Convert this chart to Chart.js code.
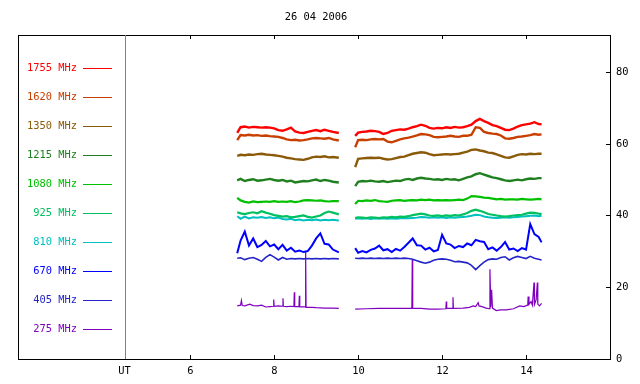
<!DOCTYPE html>
<html>
<head>
<meta charset="utf-8">
<script src="https://cdn.jsdelivr.net/npm/chart.js@4.4.0/dist/chart.umd.min.js"></script>
<style>
html, body { margin: 0; padding: 0; background: #fff; }
#box { width: 640px; height: 384px; }
</style>
</head>
<body>
<div id="box"><canvas id="radio" width="640" height="384"></canvas></div>
<script>
// time grid (UT hours) for the two observing runs
const hoursA = [7.12, 7.2, 7.3, 7.4, 7.5, 7.6, 7.7, 7.8, 7.9, 8.0, 8.1, 8.2, 8.3, 8.4, 8.5, 8.6, 8.7, 8.8, 8.9, 9.0, 9.1, 9.2, 9.3, 9.4, 9.54];
const hoursB = [9.93, 10.0, 10.1, 10.2, 10.3, 10.4, 10.5, 10.6, 10.7, 10.8, 10.9, 11.0, 11.1, 11.2, 11.3, 11.4, 11.5, 11.6, 11.7, 11.8, 11.9,
    12.0, 12.1, 12.2, 12.3, 12.4, 12.5, 12.6, 12.7, 12.8, 12.9, 13.0, 13.1, 13.2, 13.3, 13.4, 13.5, 13.6, 13.7, 13.8, 13.9,
    14.0, 14.1, 14.2, 14.3, 14.37];
const gapHour = 9.7;

const mhz1755A = [63.0, 64.6, 64.8, 64.5, 64.7, 64.6, 64.5, 64.6, 64.5, 64.3, 63.8, 63.6, 64.0, 64.5, 63.4, 63.1, 63.0, 63.3, 63.6, 63.8, 63.5, 63.9, 63.6, 63.3, 63.0];
const mhz1755B = [62.2, 63.1, 63.3, 63.4, 63.6, 63.5, 63.3, 62.7, 63.0, 63.6, 63.8, 64.0, 63.9, 64.2, 64.6, 64.9, 65.3, 65.0, 64.4, 64.2, 64.4, 64.3, 64.6,
    64.4, 64.7, 64.5, 64.6, 64.9, 65.3, 66.3, 66.9, 66.3, 65.8, 65.2, 64.9, 64.4, 63.9, 63.8, 64.2, 64.8, 65.2, 65.4, 65.6, 66.0, 65.5, 65.4];

const mhz1620A = [61.0, 62.4, 62.3, 62.5, 62.3, 62.4, 62.2, 62.3, 62.1, 62.0, 61.9, 61.6, 61.2, 61.0, 61.1, 60.9, 61.0, 61.2, 61.5, 61.6, 61.5, 61.4, 61.6, 61.2, 60.9];
const mhz1620B = [59.0, 61.0, 61.1, 61.0, 61.2, 61.3, 61.2, 61.3, 60.6, 60.4, 60.8, 61.2, 61.5, 61.7, 62.0, 62.3, 62.7, 62.6, 62.4, 61.9, 61.8, 61.9, 62.0,
    62.2, 62.0, 61.9, 62.2, 62.2, 62.5, 64.6, 64.4, 63.3, 63.0, 62.8, 62.7, 62.3, 61.5, 61.4, 61.6, 61.9, 62.0, 62.2, 62.4, 62.7, 62.5, 62.6];

const mhz1350A = [56.6, 56.9, 56.8, 57.0, 56.9, 57.1, 57.2, 57.0, 56.9, 56.8, 56.6, 56.4, 56.1, 55.9, 55.7, 55.6, 55.5, 55.8, 56.2, 56.4, 56.3, 56.5, 56.2, 56.3, 56.1];
const mhz1350B = [53.5, 55.8, 55.9, 56.0, 56.1, 56.0, 56.1, 55.8, 55.6, 55.7, 56.0, 56.3, 56.4, 56.8, 57.2, 57.4, 57.6, 57.5, 57.1, 56.8, 56.9, 57.0, 57.1,
    57.0, 57.1, 57.2, 57.5, 57.8, 58.3, 58.4, 58.1, 57.9, 57.5, 57.4, 57.0, 56.6, 56.2, 56.1, 56.5, 56.9, 57.1, 57.0, 57.2, 57.1, 57.2, 57.2];

const mhz1215A = [49.8, 50.2, 49.6, 49.9, 50.1, 49.7, 49.8, 50.0, 50.2, 49.9, 49.7, 49.9, 49.5, 49.7, 49.2, 49.4, 49.6, 49.5, 49.8, 50.0, 49.6, 49.9, 49.7, 49.4, 49.2];
const mhz1215B = [48.2, 49.4, 49.6, 49.5, 49.7, 49.5, 49.4, 49.6, 49.3, 49.5, 49.7, 49.6, 50.0, 50.2, 49.9, 50.3, 50.5, 50.3, 50.2, 50.0, 50.1, 49.9, 50.2,
    50.0, 50.1, 49.8, 50.2, 50.6, 50.9, 51.5, 51.8, 51.4, 51.0, 50.6, 50.4, 50.1, 49.8, 49.6, 49.8, 50.0, 49.8, 50.1, 50.3, 50.2, 50.4, 50.4];

const mhz1080A = [44.9, 44.2, 43.8, 43.6, 43.9, 43.7, 43.8, 43.9, 43.8, 44.0, 43.8, 43.9, 43.8, 44.0, 43.7, 43.9, 44.2, 44.3, 44.2, 44.1, 44.2, 44.0, 43.9, 44.0, 44.0];
const mhz1080B = [43.2, 44.1, 44.0, 44.2, 44.1, 44.3, 44.0, 43.9, 43.8, 44.1, 44.2, 44.3, 44.1, 44.2, 44.3, 44.2, 44.4, 44.3, 44.4, 44.2, 44.3, 44.2, 44.3,
    44.2, 44.3, 44.4, 44.3, 44.7, 45.4, 45.3, 45.2, 45.0, 44.9, 44.7, 44.5, 44.6, 44.4, 44.5, 44.5, 44.4, 44.6, 44.5, 44.4, 44.5, 44.6, 44.5];

const mhz925A = [40.9, 40.6, 40.4, 40.7, 40.9, 40.6, 41.2, 40.8, 40.5, 40.1, 39.9, 39.7, 39.8, 39.5, 39.6, 39.8, 40.0, 39.6, 39.4, 39.7, 40.0, 40.7, 41.1, 40.8, 40.3];
const mhz925B = [39.3, 39.5, 39.4, 39.3, 39.5, 39.4, 39.3, 39.5, 39.4, 39.6, 39.5, 39.7, 39.6, 39.8, 40.1, 40.3, 40.5, 40.3, 40.0, 39.9, 40.0, 39.8, 40.0,
    39.9, 40.1, 40.0, 40.3, 40.7, 41.3, 41.6, 41.3, 40.9, 40.4, 40.2, 40.0, 39.8, 39.7, 39.8, 40.0, 40.1, 40.2, 40.5, 40.8, 40.7, 40.5, 40.4];

const mhz810A = [39.8, 39.1, 39.7, 39.2, 39.5, 39.4, 39.6, 39.3, 39.5, 39.2, 39.4, 39.0, 38.9, 39.1, 38.7, 38.9, 38.6, 38.8, 38.7, 38.9, 38.6, 38.8, 38.7, 38.8, 38.6];
const mhz810B = [39.1, 39.2, 39.1, 39.2, 39.0, 39.2, 39.1, 39.2, 39.1, 39.2, 39.1, 39.2, 39.3, 39.2, 39.3, 39.4, 39.6, 39.5, 39.4, 39.5, 39.4, 39.5, 39.3,
    39.5, 39.4, 39.5, 39.6, 39.7, 39.9, 40.2, 40.1, 39.7, 39.5, 39.4, 39.3, 39.4, 39.5, 39.4, 39.5, 39.6, 39.7, 39.8, 39.9, 40.0, 39.8, 39.9];

const mhz670A = [29.5, 33.0, 35.5, 31.6, 33.6, 31.2, 31.8, 32.9, 31.4, 31.9, 30.6, 31.8, 30.2, 31.0, 29.9, 30.2, 29.8, 30.1, 31.6, 33.6, 35.0, 32.1, 31.9, 30.5, 29.7];
const mhz670B = [30.9, 29.6, 30.1, 29.7, 30.4, 30.8, 31.6, 30.3, 30.6, 29.8, 30.7, 30.2, 31.2, 32.4, 33.6, 31.7, 31.6, 30.5, 31.0, 30.0, 30.4, 34.6, 32.2,
    31.9, 30.9, 31.5, 31.2, 32.2, 31.7, 33.2, 32.8, 32.6, 30.6, 31.1, 30.2, 31.2, 32.6, 30.5, 30.8, 30.1, 30.9, 30.5, 37.6, 34.8, 34.0, 32.5];

const mhz405A = [28.1, 28.2, 27.7, 28.1, 28.3, 27.8, 27.2, 28.3, 29.1, 28.4, 27.6, 28.3, 27.8, 28.0, 27.9, 28.0, 27.9, 28.0, 27.9, 28.0, 27.9, 28.0, 27.9, 28.0, 27.9];
const mhz405B = [28.1, 28.0, 28.1, 28.0, 28.1, 28.0, 28.1, 28.0, 28.1, 28.0, 28.1, 28.0, 28.1, 28.0, 27.8, 27.4, 27.0, 26.7, 27.0, 27.5, 27.8, 27.9, 27.8,
    27.5, 27.1, 27.2, 27.0, 26.8, 26.1, 24.9, 26.0, 27.0, 27.7, 27.9, 27.8, 28.3, 28.5, 27.6, 28.2, 28.6, 28.3, 28.0, 28.6, 28.1, 27.8, 27.6];

// 275 MHz has its own sample times because of the narrow bursts
const hours275A = [7.12, 7.2, 7.22, 7.24, 7.3, 7.42, 7.5, 7.6, 7.7, 7.8, 7.9, 7.98, 7.99, 8.0, 8.1, 8.2, 8.21, 8.22, 8.3, 8.4, 8.47, 8.48, 8.49,
    8.59, 8.6, 8.61, 8.7, 8.74, 8.75, 8.76, 8.9, 9.0, 9.2, 9.4, 9.54];
const mhz275A = [14.8, 15.0, 16.3, 14.9, 14.8, 15.3, 14.9, 14.8, 15.0, 14.5, 14.6, 14.7, 16.6, 14.7, 14.8, 14.7, 16.9, 14.7, 14.6, 14.7, 14.6, 18.6, 14.6,
    14.6, 17.6, 14.5, 14.5, 14.5, 29.9, 14.4, 14.4, 14.3, 14.2, 14.2, 14.1];
const hours275B = [9.93, 10.2, 10.5, 10.8, 11.0, 11.28, 11.29, 11.30, 11.5, 11.7, 11.9, 12.09, 12.10, 12.11, 12.25, 12.26, 12.27, 12.5, 12.65, 12.74,
    12.80, 12.86, 12.88, 12.95, 13.05, 13.13, 13.14, 13.16, 13.18, 13.20, 13.29, 13.4, 13.53, 13.7, 13.85, 13.95, 14.04, 14.05, 14.07, 14.12,
    14.15, 14.19, 14.20, 14.24, 14.27, 14.28, 14.32, 14.37];
const mhz275B = [13.9, 14.0, 14.1, 14.1, 14.1, 14.1, 27.6, 14.1, 14.1, 13.9, 13.9, 14.0, 16.0, 14.1, 14.1, 17.2, 14.1, 14.2, 14.4, 14.8,
    14.6, 15.7, 14.8, 14.6, 14.2, 14.0, 25.0, 14.4, 19.3, 14.2, 13.5, 13.7, 13.7, 14.0, 14.8, 14.6, 15.0, 17.4, 15.2, 16.0,
    15.0, 21.3, 15.2, 16.5, 21.3, 15.3, 14.8, 15.5];

const xTicks = [6, 8, 10, 12, 14];
const yTicks = [0, 20, 40, 60, 80];
const dividerHour = 4.45;
const title = '26 04 2006';

const series = [
    { label: '1755 MHz', color: '#ff0000', hA: hoursA, a: mhz1755A, hB: hoursB, b: mhz1755B, width: 2.4 },
    { label: '1620 MHz', color: '#c84000', hA: hoursA, a: mhz1620A, hB: hoursB, b: mhz1620B, width: 2.4 },
    { label: '1350 MHz', color: '#8a5a08', hA: hoursA, a: mhz1350A, hB: hoursB, b: mhz1350B, width: 2.4 },
    { label: '1215 MHz', color: '#208020', hA: hoursA, a: mhz1215A, hB: hoursB, b: mhz1215B, width: 2.4 },
    { label: '1080 MHz', color: '#00c000', hA: hoursA, a: mhz1080A, hB: hoursB, b: mhz1080B, width: 2.2 },
    { label: '925 MHz', color: '#00c060', hA: hoursA, a: mhz925A, hB: hoursB, b: mhz925B, width: 2.2 },
    { label: '810 MHz', color: '#00c0c0', hA: hoursA, a: mhz810A, hB: hoursB, b: mhz810B, width: 2 },
    { label: '670 MHz', color: '#0000ff', hA: hoursA, a: mhz670A, hB: hoursB, b: mhz670B, width: 2 },
    { label: '405 MHz', color: '#2424c8', hA: hoursA, a: mhz405A, hB: hoursB, b: mhz405B, width: 1.6 },
    { label: '275 MHz', color: '#8000c0', hA: hours275A, a: mhz275A, hB: hours275B, b: mhz275B, width: 1.2 }
];

function toPoints(s) {
    const pts = s.hA.map((h, i) => ({ x: h, y: s.a[i] }));
    pts.push({ x: gapHour, y: null });
    s.hB.forEach((h, i) => pts.push({ x: h, y: s.b[i] }));
    return pts;
}

const FONT = '10.4px "DejaVu Sans Mono"';

// frame, inward ticks, labels and the left-hand legend
const framePlugin = {
    id: 'frame',
    afterDraw(chart) {
        const { ctx, chartArea: a, scales: { x, y } } = chart;
        ctx.save();
        ctx.lineWidth = 1;
        ctx.strokeStyle = '#000';
        ctx.strokeRect(a.left + 0.5, a.top + 0.5, a.right - a.left, a.bottom - a.top);

        ctx.font = FONT;
        ctx.fillStyle = '#000';
        ctx.textBaseline = 'middle';
        ctx.textAlign = 'center';
        ctx.fillText(title, 316, 17);

        // divider between legend and data
        const dx = Math.round(x.getPixelForValue(dividerHour)) + 0.5;
        ctx.strokeStyle = '#808080';
        ctx.beginPath();
        ctx.moveTo(dx, a.top);
        ctx.lineTo(dx, a.bottom);
        ctx.stroke();
        ctx.fillText('UT', dx - 1, 371);

        ctx.strokeStyle = '#000';
        ctx.beginPath();
        xTicks.forEach(t => {
            const px = Math.round(x.getPixelForValue(t)) + 0.5;
            ctx.moveTo(px, a.top);
            ctx.lineTo(px, a.top + 4);
            ctx.moveTo(px, a.bottom);
            ctx.lineTo(px, a.bottom - 4);
            ctx.fillText(String(t), px, 371);
        });
        ctx.textAlign = 'left';
        yTicks.forEach(t => {
            const py = Math.round(y.getPixelForValue(t)) + 0.5;
            ctx.moveTo(a.right - 4, py);
            ctx.lineTo(a.right, py);
            ctx.fillText(String(t), a.right + 6, py);
        });
        ctx.stroke();

        // legend
        ctx.textAlign = 'right';
        series.forEach((s, i) => {
            const ly = Math.round(67.5 + i * 29.1);
            ctx.fillStyle = s.color;
            ctx.fillText(s.label, 77, ly);
            ctx.strokeStyle = s.color;
            ctx.beginPath();
            ctx.moveTo(83, ly + 0.5);
            ctx.lineTo(112, ly + 0.5);
            ctx.stroke();
        });
        ctx.restore();
    }
};

new Chart(document.getElementById('radio'), {
    type: 'line',
    data: {
        datasets: series.map(s => ({
            label: s.label,
            data: toPoints(s),
            borderColor: s.color,
            borderWidth: s.width,
            pointRadius: 0,
            tension: 0,
            spanGaps: false,
            fill: false
        }))
    },
    options: {
        responsive: false,
        animation: false,
        devicePixelRatio: 1,
        layout: { padding: { left: 18, right: 30, top: 35, bottom: 25 } },
        plugins: { legend: { display: false }, tooltip: { enabled: false } },
        scales: {
            x: { type: 'linear', min: 1.898, max: 16.0, display: false },
            y: { min: 0, max: 90.3, display: false }
        }
    },
    plugins: [framePlugin]
});
</script>
</body>
</html>
